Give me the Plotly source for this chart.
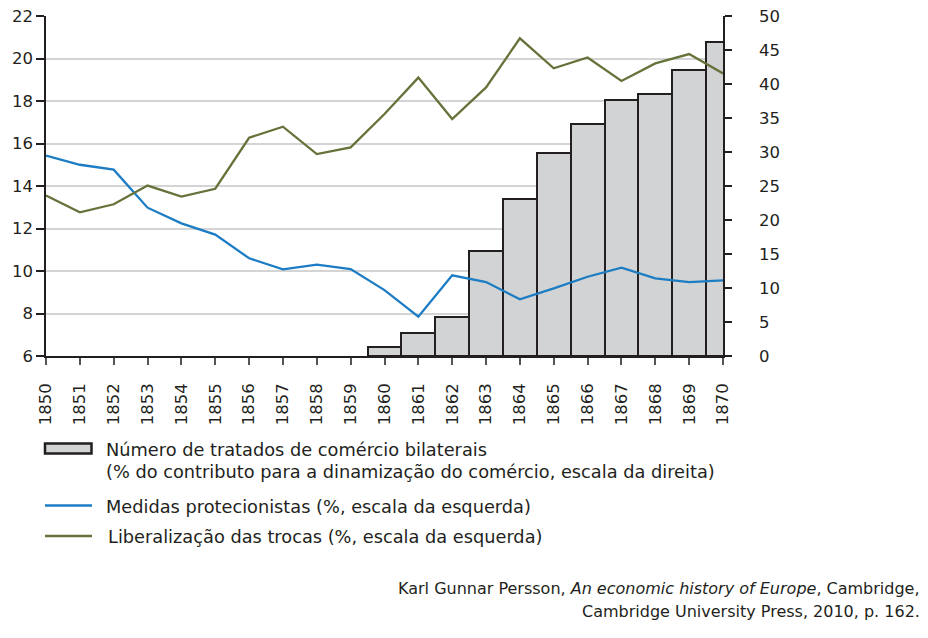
import plotly.graph_objects as go

# dados
anos = list(range(1850, 1871))

liberalizacao = [13.55, 12.76, 13.14, 14.02, 13.5, 13.87, 16.27, 16.79, 15.5, 15.82,
                 17.39, 19.1, 17.15, 18.64, 20.95, 19.54, 20.05, 18.94, 19.77, 20.21, 19.3]

protecionistas = [15.43, 15.0, 14.77, 12.98, 12.24, 11.71, 10.6, 10.08, 10.3, 10.09,
                  9.1, 7.85, 9.8, 9.48, 8.67, 9.18, 9.73, 10.16, 9.65, 9.48, 9.56]

anos_tratados = list(range(1860, 1871))
tratados = [1.3, 3.4, 5.7, 15.5, 23.1, 29.9, 34.1, 37.6, 38.5, 42.0, 46.2]

FONT = "DejaVu Sans, Verdana, sans-serif"
TXT = "#231f20"
AZUL = "#1c7cc4"
VERDE = "#65733a"
CINZA = "#d1d3d4"

# a página tem 8px de margem no body: a figura fica deslocada
OFF = 8
W, H = 928 - OFF, 638 - OFF
# area do grafico em pixels da página (928x638)
L, R, T, B = 46, 723, 16, 356


def px(x):
    return (x - L) / (R - L)


def py(y):
    return (B - y) / (B - T)


fig = go.Figure()

fig.add_trace(go.Bar(
    x=anos_tratados, y=tratados, width=1,
    marker=dict(color=CINZA, line=dict(color=TXT, width=2)),
    yaxis="y", showlegend=False,
))

fig.add_trace(go.Scatter(
    x=anos, y=protecionistas, mode="lines",
    line=dict(color=AZUL, width=2.3), yaxis="y2", showlegend=False,
))

fig.add_trace(go.Scatter(
    x=anos, y=liberalizacao, mode="lines",
    line=dict(color=VERDE, width=2.3), yaxis="y2", showlegend=False,
))

fig.update_layout(
    width=W, height=H,
    margin=dict(l=L - OFF, r=928 - R, t=T - OFF, b=638 - B, autoexpand=False),
    paper_bgcolor="white", plot_bgcolor="white",
    font=dict(family=FONT, size=16.5, color=TXT),
    bargap=0,
    xaxis=dict(
        range=[1850, 1870], tickmode="array", tickvals=anos,
        ticktext=[str(a) for a in anos], tickangle=-90,
        showgrid=False, showline=True, linecolor=TXT, linewidth=1.5,
        ticks="outside", ticklen=7, tickcolor="#555555", tickwidth=1.5,
        zeroline=False, automargin=False, ticklabelstandoff=12,
        ticklabeloverflow="allow",
    ),
    yaxis=dict(
        range=[0, 50], dtick=5, side="right",
        showgrid=False, showline=True, linecolor=TXT, linewidth=1.5,
        ticks="outside", ticklen=7, tickcolor=TXT, tickwidth=1.5,
        zeroline=False, automargin=False, ticklabelstandoff=24,
        ticklabeloverflow="allow",
    ),
    yaxis2=dict(
        range=[6, 22], dtick=2, side="left", overlaying="y",
        showgrid=True, gridcolor="#d4d4d4", gridwidth=1.5,
        showline=True, linecolor=TXT, linewidth=1.5,
        ticks="outside", ticklen=8, tickcolor=TXT, tickwidth=1.5,
        zeroline=False, automargin=False, ticklabeloverflow="allow",
    ),
)

# legenda desenhada à mão
fig.add_shape(type="rect", xref="paper", yref="paper",
              x0=px(45), x1=px(91.5), y0=py(453.5), y1=py(443.5),
              fillcolor=CINZA, line=dict(color=TXT, width=2.5))
fig.add_shape(type="line", xref="paper", yref="paper",
              x0=px(45), x1=px(92), y0=py(505.5), y1=py(505.5),
              line=dict(color=AZUL, width=2.5))
fig.add_shape(type="line", xref="paper", yref="paper",
              x0=px(45), x1=px(92), y0=py(536), y1=py(536),
              line=dict(color=VERDE, width=2.5))

legenda = [
    (104, 450.5, "Número de tratados de comércio bilaterais"),
    (104, 472, "(% do contributo para a dinamização do comércio, escala da direita)"),
    (104, 507, "Medidas protecionistas (%, escala da esquerda)"),
    (106, 536.5, "Liberalização das trocas (%, escala da esquerda)"),
]
for x, y, t in legenda:
    fig.add_annotation(x=px(x), y=py(y), xref="paper", yref="paper",
                       text=t, showarrow=False, xanchor="left", yanchor="middle",
                       font=dict(family=FONT, size=17.75, color=TXT))

fonte = [
    (588, "Karl Gunnar Persson, <i>An economic history of Europe</i>, Cambridge,"),
    (611, "Cambridge University Press, 2010, p. 162."),
]
for y, t in fonte:
    fig.add_annotation(x=px(922), y=py(y), xref="paper", yref="paper",
                       text=t, showarrow=False, xanchor="right", yanchor="middle",
                       font=dict(family=FONT, size=16, color=TXT))

fig.write_html("out.html")
